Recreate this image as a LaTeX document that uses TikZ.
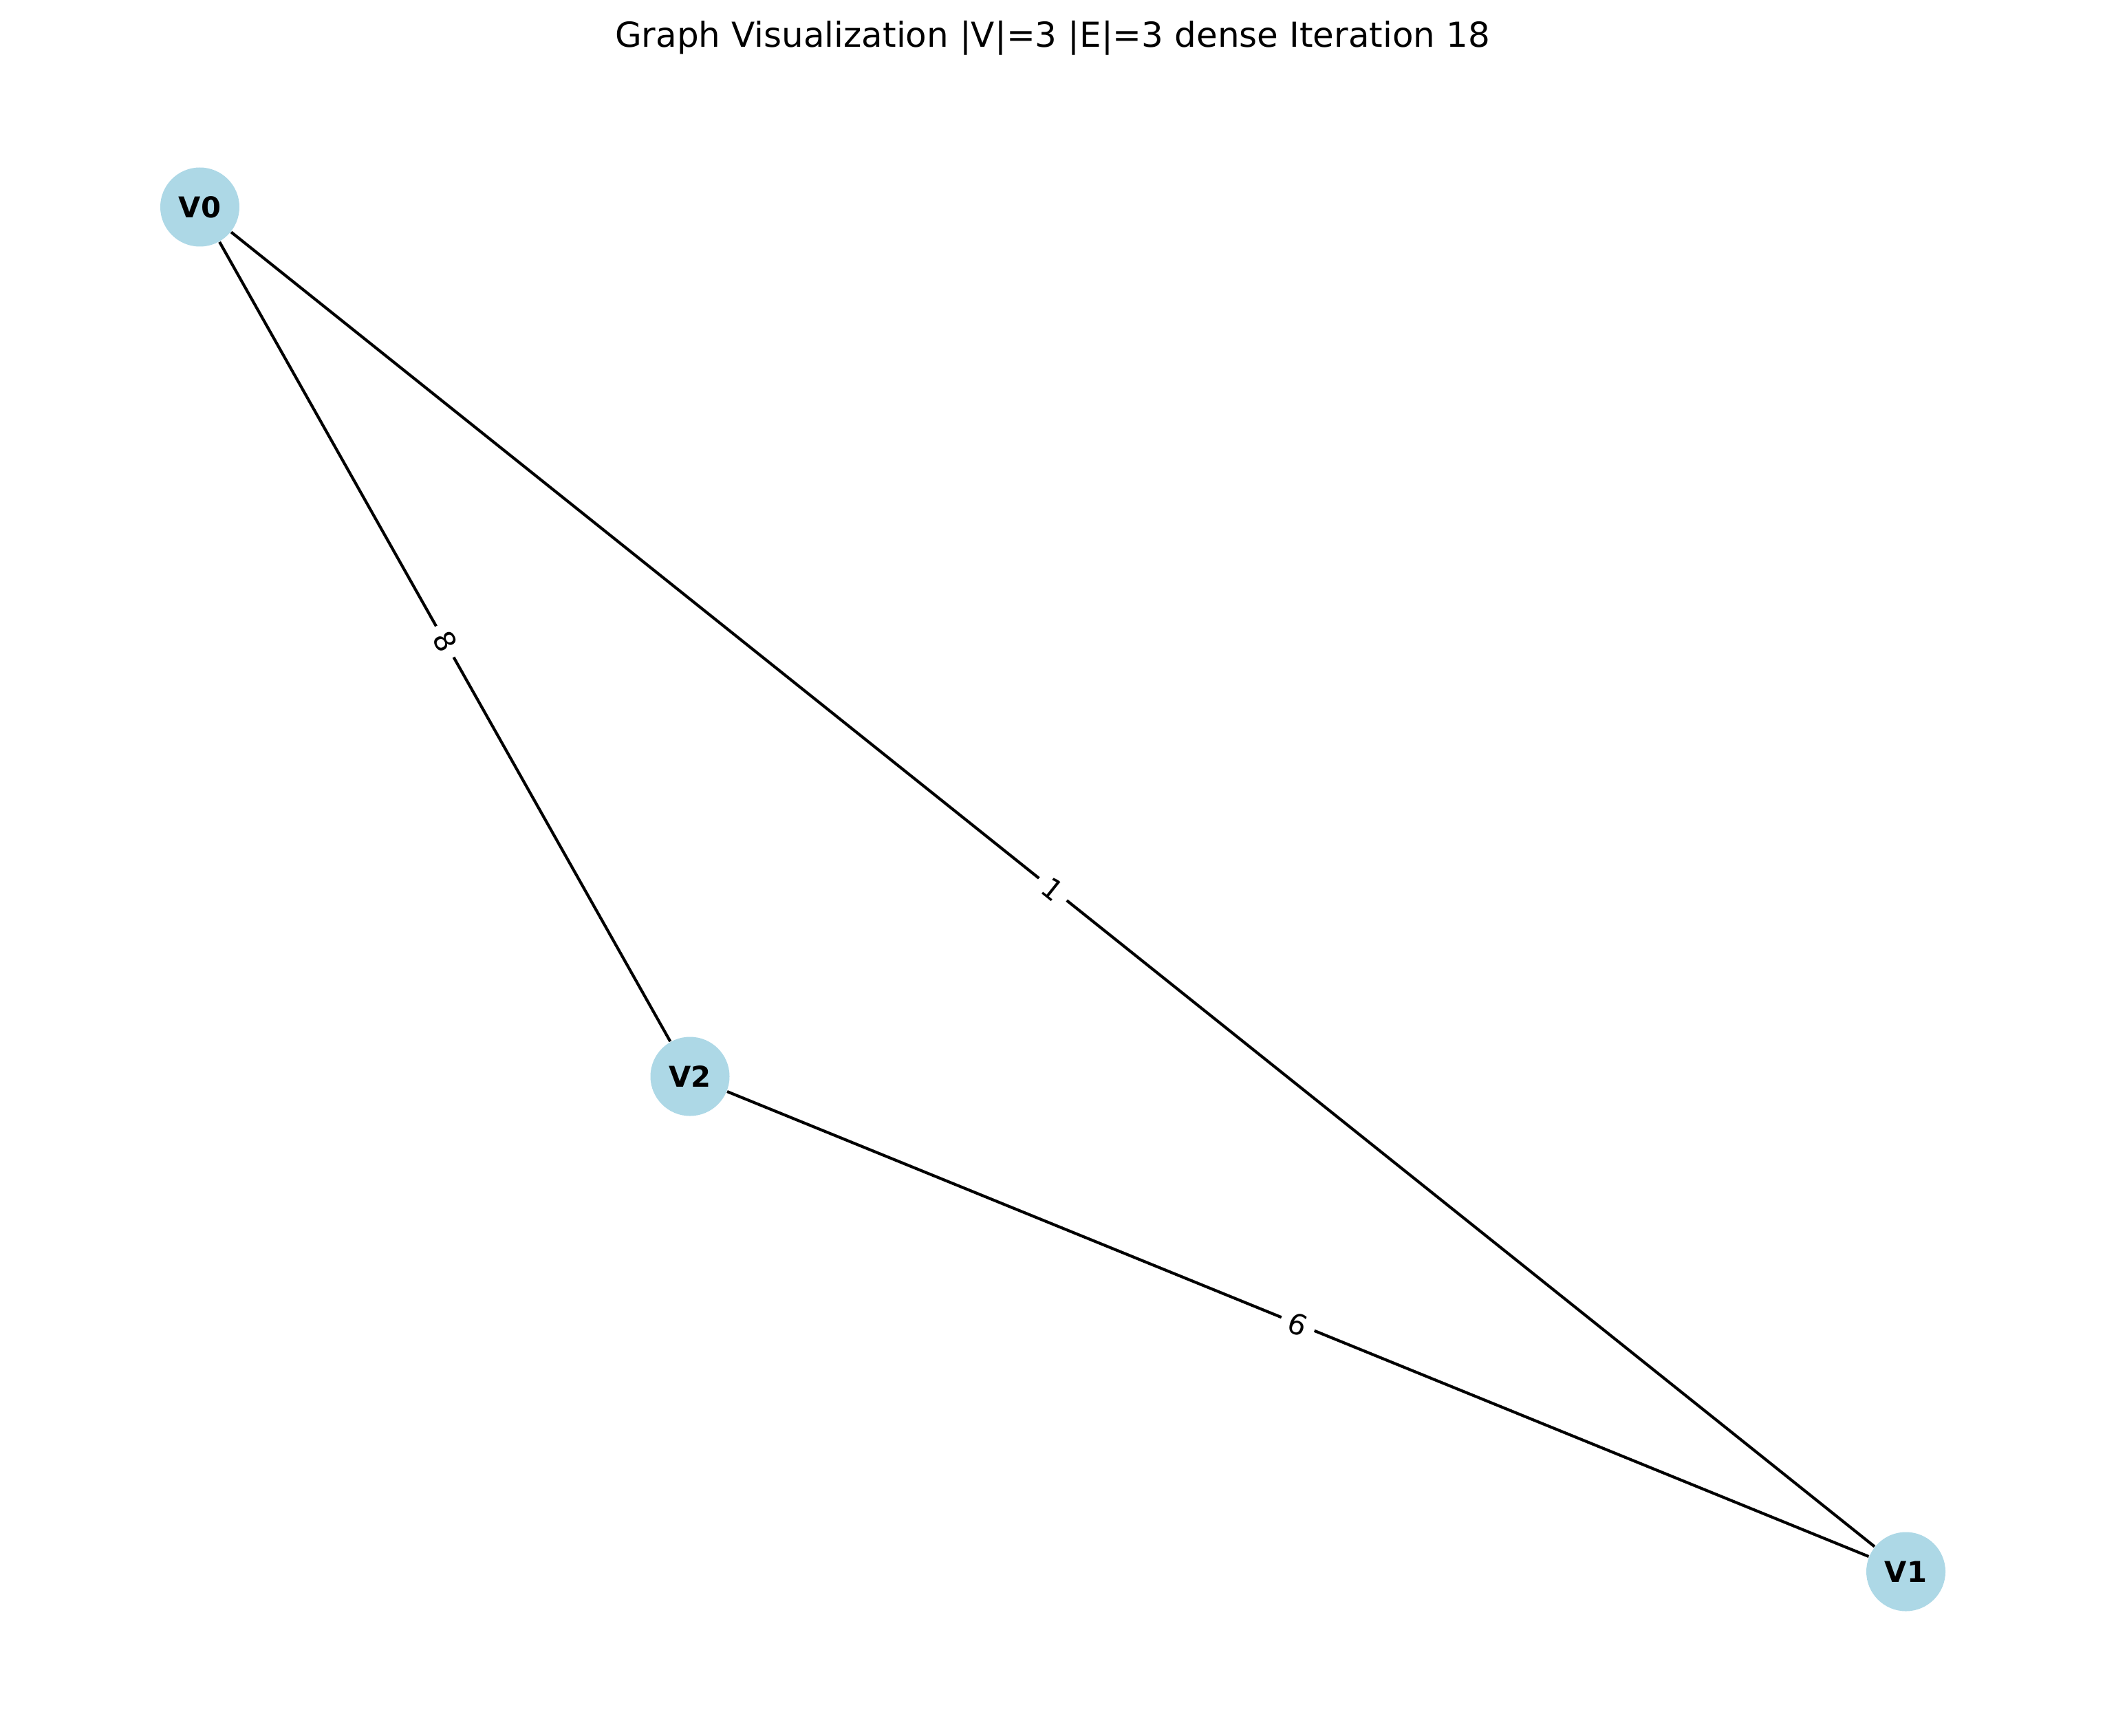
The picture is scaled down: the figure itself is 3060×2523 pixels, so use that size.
\documentclass[tikz,border=0pt]{standalone}
\usepackage{fontspec}
\setmainfont{DejaVu Sans}
\definecolor{nodeblue}{HTML}{ADD8E6}
\tikzset{
  vertex/.style={circle, fill=nodeblue, draw=none, minimum size=27.6pt, inner sep=0pt, font=\fontsize{10}{12}\selectfont\bfseries},
  edge/.style={draw=black, line width=1pt},
  elabel/.style={fill=white, inner sep=3pt, sloped, pos=0.5, font=\fontsize{10}{12}\selectfont},
  titletext/.style={font=\fontsize{12}{14}\selectfont, inner sep=0pt}
}
\begin{document}
\begin{tikzpicture}[x=0.24pt,y=-0.24pt]
\useasboundingbox (0,0) rectangle (3060,2523);
\node[titletext] (title) at (1530,55) {Graph Visualization |V|=3 |E|=3 dense Iteration 18};
\node[vertex] (V0) at (290.5,301) {V0};
\node[vertex] (V2) at (1003,1565) {V2};
\node[vertex] (V1) at (2770.5,2285) {V1};
\draw[edge] (V0) -- node[elabel]{8} (V2);
\draw[edge] (V0) -- node[elabel]{1} (V1);
\draw[edge] (V2) -- node[elabel]{6} (V1);
\end{tikzpicture}
\end{document}
